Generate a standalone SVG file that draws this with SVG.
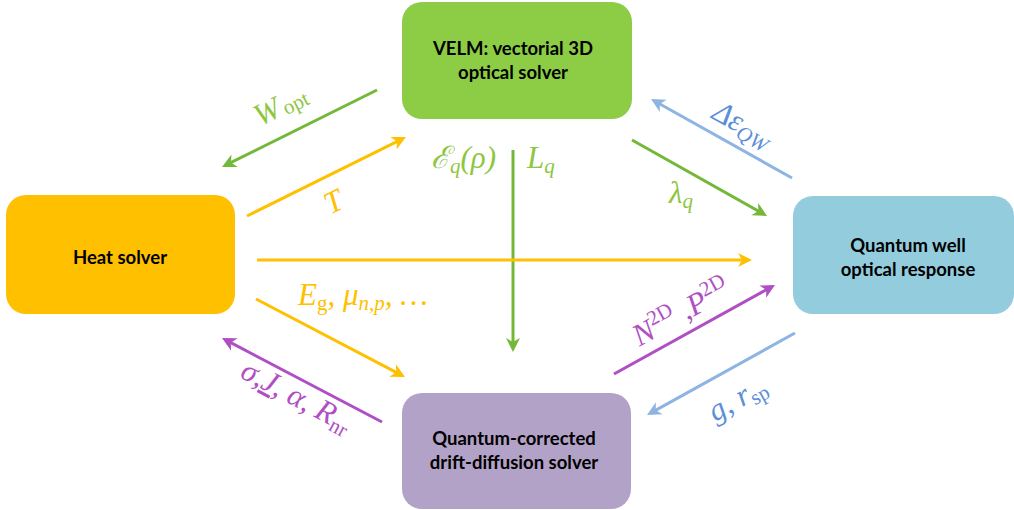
<svg xmlns="http://www.w3.org/2000/svg" width="1014" height="510" viewBox="0 0 1014 510">
<style>
.box{stroke:none}
.lbl{font-family:Lato,"Liberation Sans",sans-serif;font-weight:bold;font-size:18.5px;fill:#000;text-anchor:middle}
.m{font-family:"Liberation Serif","DejaVu Serif",serif;font-style:italic;font-size:31px}
.sub{font-size:21px}
.rm{font-style:normal}
.up{font-size:21px;font-style:normal}
.c{fill:none;stroke-width:3}
.g{stroke:#74B83A}.y{stroke:#FFC000}.p{stroke:#B04FC4}.b{stroke:#8DB4E2}
</style>
<defs>
<marker id="ag" viewBox="-12 -8 17 16" refX="0" refY="0" markerWidth="17" markerHeight="16" markerUnits="userSpaceOnUse" orient="auto"><path d="M4,0 L-10,-7 L-6,0 L-10,7 Z" fill="#74B83A"/></marker>
<marker id="ay" viewBox="-12 -8 17 16" refX="0" refY="0" markerWidth="17" markerHeight="16" markerUnits="userSpaceOnUse" orient="auto"><path d="M4,0 L-10,-7 L-6,0 L-10,7 Z" fill="#FFC000"/></marker>
<marker id="ap" viewBox="-12 -8 17 16" refX="0" refY="0" markerWidth="17" markerHeight="16" markerUnits="userSpaceOnUse" orient="auto"><path d="M4,0 L-10,-7 L-6,0 L-10,7 Z" fill="#B04FC4"/></marker>
<marker id="ab" viewBox="-12 -8 17 16" refX="0" refY="0" markerWidth="17" markerHeight="16" markerUnits="userSpaceOnUse" orient="auto"><path d="M4,0 L-10,-7 L-6,0 L-10,7 Z" fill="#8DB4E2"/></marker>
</defs>
<rect width="1014" height="510" fill="#fff"/>
<g id="connectors">
<line class="c g" x1="377" y1="90" x2="225.6" y2="165.2" marker-end="url(#ag)"/>
<line class="c y" x1="247" y1="216" x2="402.4" y2="138.8" marker-end="url(#ay)"/>
<line class="c g" x1="513" y1="150" x2="513" y2="348" marker-end="url(#ag)"/>
<line class="c y" x1="257" y1="260" x2="748" y2="260" marker-end="url(#ay)"/>
<line class="c g" x1="632" y1="140" x2="763.5" y2="214" marker-end="url(#ag)"/>
<line class="c b" x1="792" y1="178" x2="654.5" y2="101" marker-end="url(#ab)"/>
<line class="c y" x1="256" y1="299" x2="401.5" y2="375.1" marker-end="url(#ay)"/>
<line class="c p" x1="382" y1="422" x2="225.5" y2="339.9" marker-end="url(#ap)"/>
<line class="c p" x1="614" y1="374" x2="771.5" y2="286.9" marker-end="url(#ap)"/>
<line class="c b" x1="795" y1="333" x2="650.5" y2="413.1" marker-end="url(#ab)"/>
<text class="m" fill="#8DC63F" transform="translate(285,114) rotate(-26.5)" text-anchor="middle">W<tspan class="sub rm" dx="3" dy="2">opt</tspan></text>
<text class="m" fill="#FFC000" transform="translate(338,211) rotate(-26.5)" text-anchor="middle">T</text>
<text class="m" fill="#8DC63F" x="431" y="168">ℰ<tspan class="sub" dy="5">q</tspan><tspan dy="-5">(ρ)</tspan></text>
<text class="m" fill="#8DC63F" x="527" y="168">L<tspan class="sub" dy="5">q</tspan></text>
<text class="m" fill="#5B8FD9" transform="translate(738,133) rotate(29)" text-anchor="middle">Δε<tspan class="sub" dy="5">QW</tspan></text>
<text class="m" fill="#8DC63F" x="669" y="203">λ<tspan class="sub" dy="5">q</tspan></text>
<text class="m" fill="#FFC000" x="298" y="305">E<tspan class="sub rm" dy="5">g</tspan><tspan dy="-5">, μ</tspan><tspan class="sub" dy="5">n,p</tspan><tspan dy="-5">, …</tspan></text>
<text class="m" fill="#B04FC4" transform="translate(292,405) rotate(28)" text-anchor="middle">σ,<tspan text-decoration="underline">J</tspan>, α, R<tspan class="sub rm" dy="5">nr</tspan></text>
<text class="m" fill="#B04FC4" transform="translate(686,321) rotate(-29)" text-anchor="middle">N<tspan class="up" dy="-12">2D</tspan><tspan dy="12"> ,P</tspan><tspan class="up" dy="-12">2D</tspan></text>
<text class="m" fill="#5B8FD9" transform="translate(742,407) rotate(-29)" text-anchor="middle">g, r<tspan class="sub rm" dy="5">sp</tspan></text>
</g>
<g id="velm">
<rect class="box" x="402" y="2" width="230" height="117" rx="20" fill="#8DCC45"/>
<text class="lbl" x="513" y="55">VELM: vectorial 3D</text>
<text class="lbl" x="513" y="79">optical solver</text>
</g>
<g id="heat">
<rect class="box" x="6" y="195" width="229" height="119" rx="20" fill="#FFC000"/>
<text class="lbl" x="120" y="264">Heat solver</text>
</g>
<g id="qw">
<rect class="box" x="793" y="196" width="221" height="118" rx="20" fill="#93CDDD"/>
<text class="lbl" x="908" y="252">Quantum well</text>
<text class="lbl" x="908" y="276">optical response</text>
</g>
<g id="dd">
<rect class="box" x="402" y="393" width="229" height="116" rx="20" fill="#B3A2C7"/>
<text class="lbl" x="514" y="445">Quantum-corrected</text>
<text class="lbl" x="514" y="469">drift-diffusion solver</text>
</g>
</svg>
